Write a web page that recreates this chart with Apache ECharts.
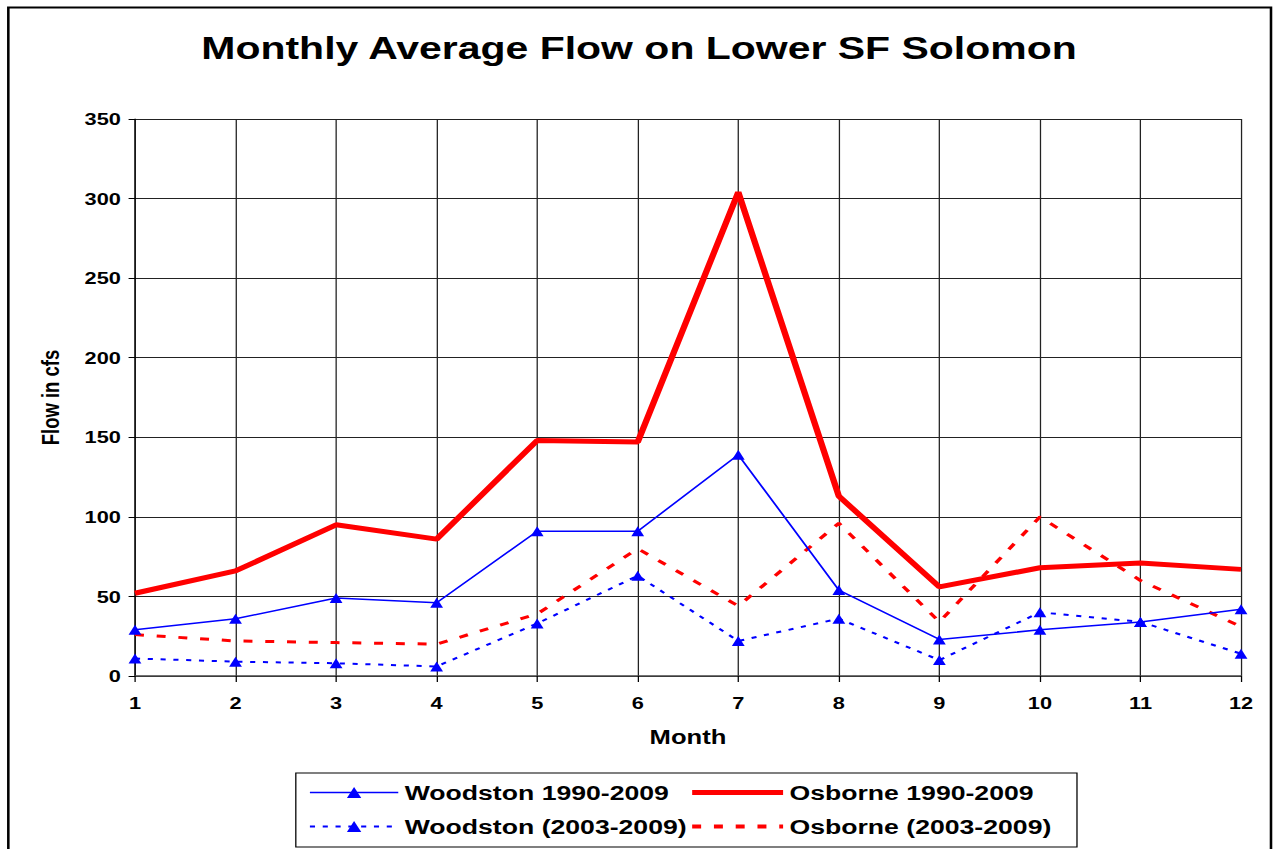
<!DOCTYPE html>
<html>
<head>
<meta charset="utf-8">
<title>Monthly Average Flow on Lower SF Solomon</title>
<script src="https://cdn.jsdelivr.net/npm/echarts@6/dist/echarts.min.js"></script>
<style>
  html, body { margin: 0; padding: 0; background: #fff; overflow: hidden; }
  /* the original picture is stretched sideways, so the chart is too */
  #main { width: 998px; height: 849px; transform: scaleX(1.2806); transform-origin: 0 0; }
</style>
</head>
<body>
<div id="main"></div>
<script>
// months on the x axis
const months = ['1', '2', '3', '4', '5', '6', '7', '8', '9', '10', '11', '12'];

// flow in cfs
const woodstonAll = [29, 36, 49, 46, 91, 91, 139, 54, 23, 29, 34, 42];
const osborneAll = [52, 66, 95, 86, 148, 147, 304, 113, 56, 68, 71, 67];
const woodstonRecent = [11, 9, 8, 6, 33, 63, 22, 36, 10, 40, 34, 14];
const osborneRecent = [26, 22, 21, 20, 39, 80, 44, 96, 34, 100, 60, 31];

const font = "'Liberation Sans', Arial, sans-serif";
const blue = '#0000FF';
const red = '#FF0000';

const chart = echarts.init(document.getElementById('main'), null, { renderer: 'svg' });

const legendText = { fontFamily: font, fontWeight: 'bold', fontSize: 20.8, color: '#000' };

const option = {
  backgroundColor: '#fff',
  animation: false,
  title: {
    text: 'Monthly Average Flow on Lower SF Solomon',
    left: 'center',
    top: 27,
    textStyle: { fontFamily: font, fontWeight: 'bold', fontSize: 32, color: '#000' }
  },
  grid: { left: 105.4, right: 28.9, top: 119, bottom: 173 },
  legend: [
    {
      orient: 'vertical',
      left: 241,
      top: 782,
      padding: 0,
      itemWidth: 69,
      itemHeight: 14,
      itemGap: 13,
      data: [
        { name: 'Woodston 1990-2009', lineStyle: { width: 1.5 } },
        { name: 'Woodston (2003-2009)', lineStyle: { width: 2 } }
      ],
      textStyle: legendText
    },
    {
      orient: 'vertical',
      left: 538,
      top: 782,
      padding: 0,
      itemWidth: 71,
      itemHeight: 14,
      itemGap: 13,
      data: [
        { name: 'Osborne 1990-2009', lineStyle: { width: 5 }, itemStyle: { opacity: 0 } },
        { name: 'Osborne (2003-2009)', lineStyle: { width: 4 }, itemStyle: { opacity: 0 } }
      ],
      textStyle: legendText
    }
  ],
  xAxis: {
    type: 'category',
    boundaryGap: false,
    data: months,
    name: 'Month',
    nameLocation: 'middle',
    nameGap: 51,
    nameTextStyle: { fontFamily: font, fontWeight: 'bold', fontSize: 20, color: '#000' },
    axisLine: { lineStyle: { color: '#444', width: 1.5 } },
    axisTick: { length: 6, lineStyle: { color: '#000' } },
    axisLabel: { margin: 18, fontFamily: font, fontWeight: 'bold', fontSize: 17, color: '#000' },
    splitLine: { show: true, lineStyle: { color: '#222', width: 1 } }
  },
  yAxis: {
    type: 'value',
    min: 0,
    max: 350,
    interval: 50,
    name: 'Flow in cfs',
    nameLocation: 'middle',
    nameGap: 56,
    nameTextStyle: { fontFamily: font, fontWeight: 'bold', fontSize: 18.5, color: '#000' },
    axisLine: { show: true, lineStyle: { color: '#000', width: 1 } },
    axisTick: { show: true, length: 5, lineStyle: { color: '#000' } },
    axisLabel: { margin: 11, fontFamily: font, fontWeight: 'bold', fontSize: 17, color: '#000' },
    splitLine: { lineStyle: { color: '#222', width: 1 } }
  },
  series: [
    {
      name: 'Osborne 1990-2009',
      type: 'line',
      data: osborneAll,
      symbol: 'none',
      color: red,
      lineStyle: { color: red, width: 5 }
    },
    {
      name: 'Osborne (2003-2009)',
      type: 'line',
      data: osborneRecent,
      symbol: 'none',
      color: red,
      lineStyle: { color: red, width: 3, type: [7, 10] }
    },
    {
      name: 'Woodston 1990-2009',
      type: 'line',
      data: woodstonAll,
      symbol: 'triangle',
      symbolSize: [10, 10],
      color: blue,
      itemStyle: { color: blue },
      lineStyle: { color: blue, width: 1.5 }
    },
    {
      name: 'Woodston (2003-2009)',
      type: 'line',
      data: woodstonRecent,
      symbol: 'triangle',
      symbolSize: [10, 10],
      color: blue,
      itemStyle: { color: blue },
      lineStyle: { color: blue, width: 2, type: [4, 6] }
    }
  ],
  graphic: [
    {
      // outer frame of the chart
      type: 'rect',
      shape: { x: 6.5, y: 7.5, width: 986, height: 900 },
      style: { fill: 'none', stroke: '#000', lineWidth: 2 },
      silent: true
    },
    {
      // legend box
      type: 'rect',
      shape: { x: 231, y: 773, width: 610, height: 74 },
      style: { fill: 'none', stroke: '#000', lineWidth: 1 },
      silent: true
    }
  ]
};

chart.setOption(option);
</script>
</body>
</html>
